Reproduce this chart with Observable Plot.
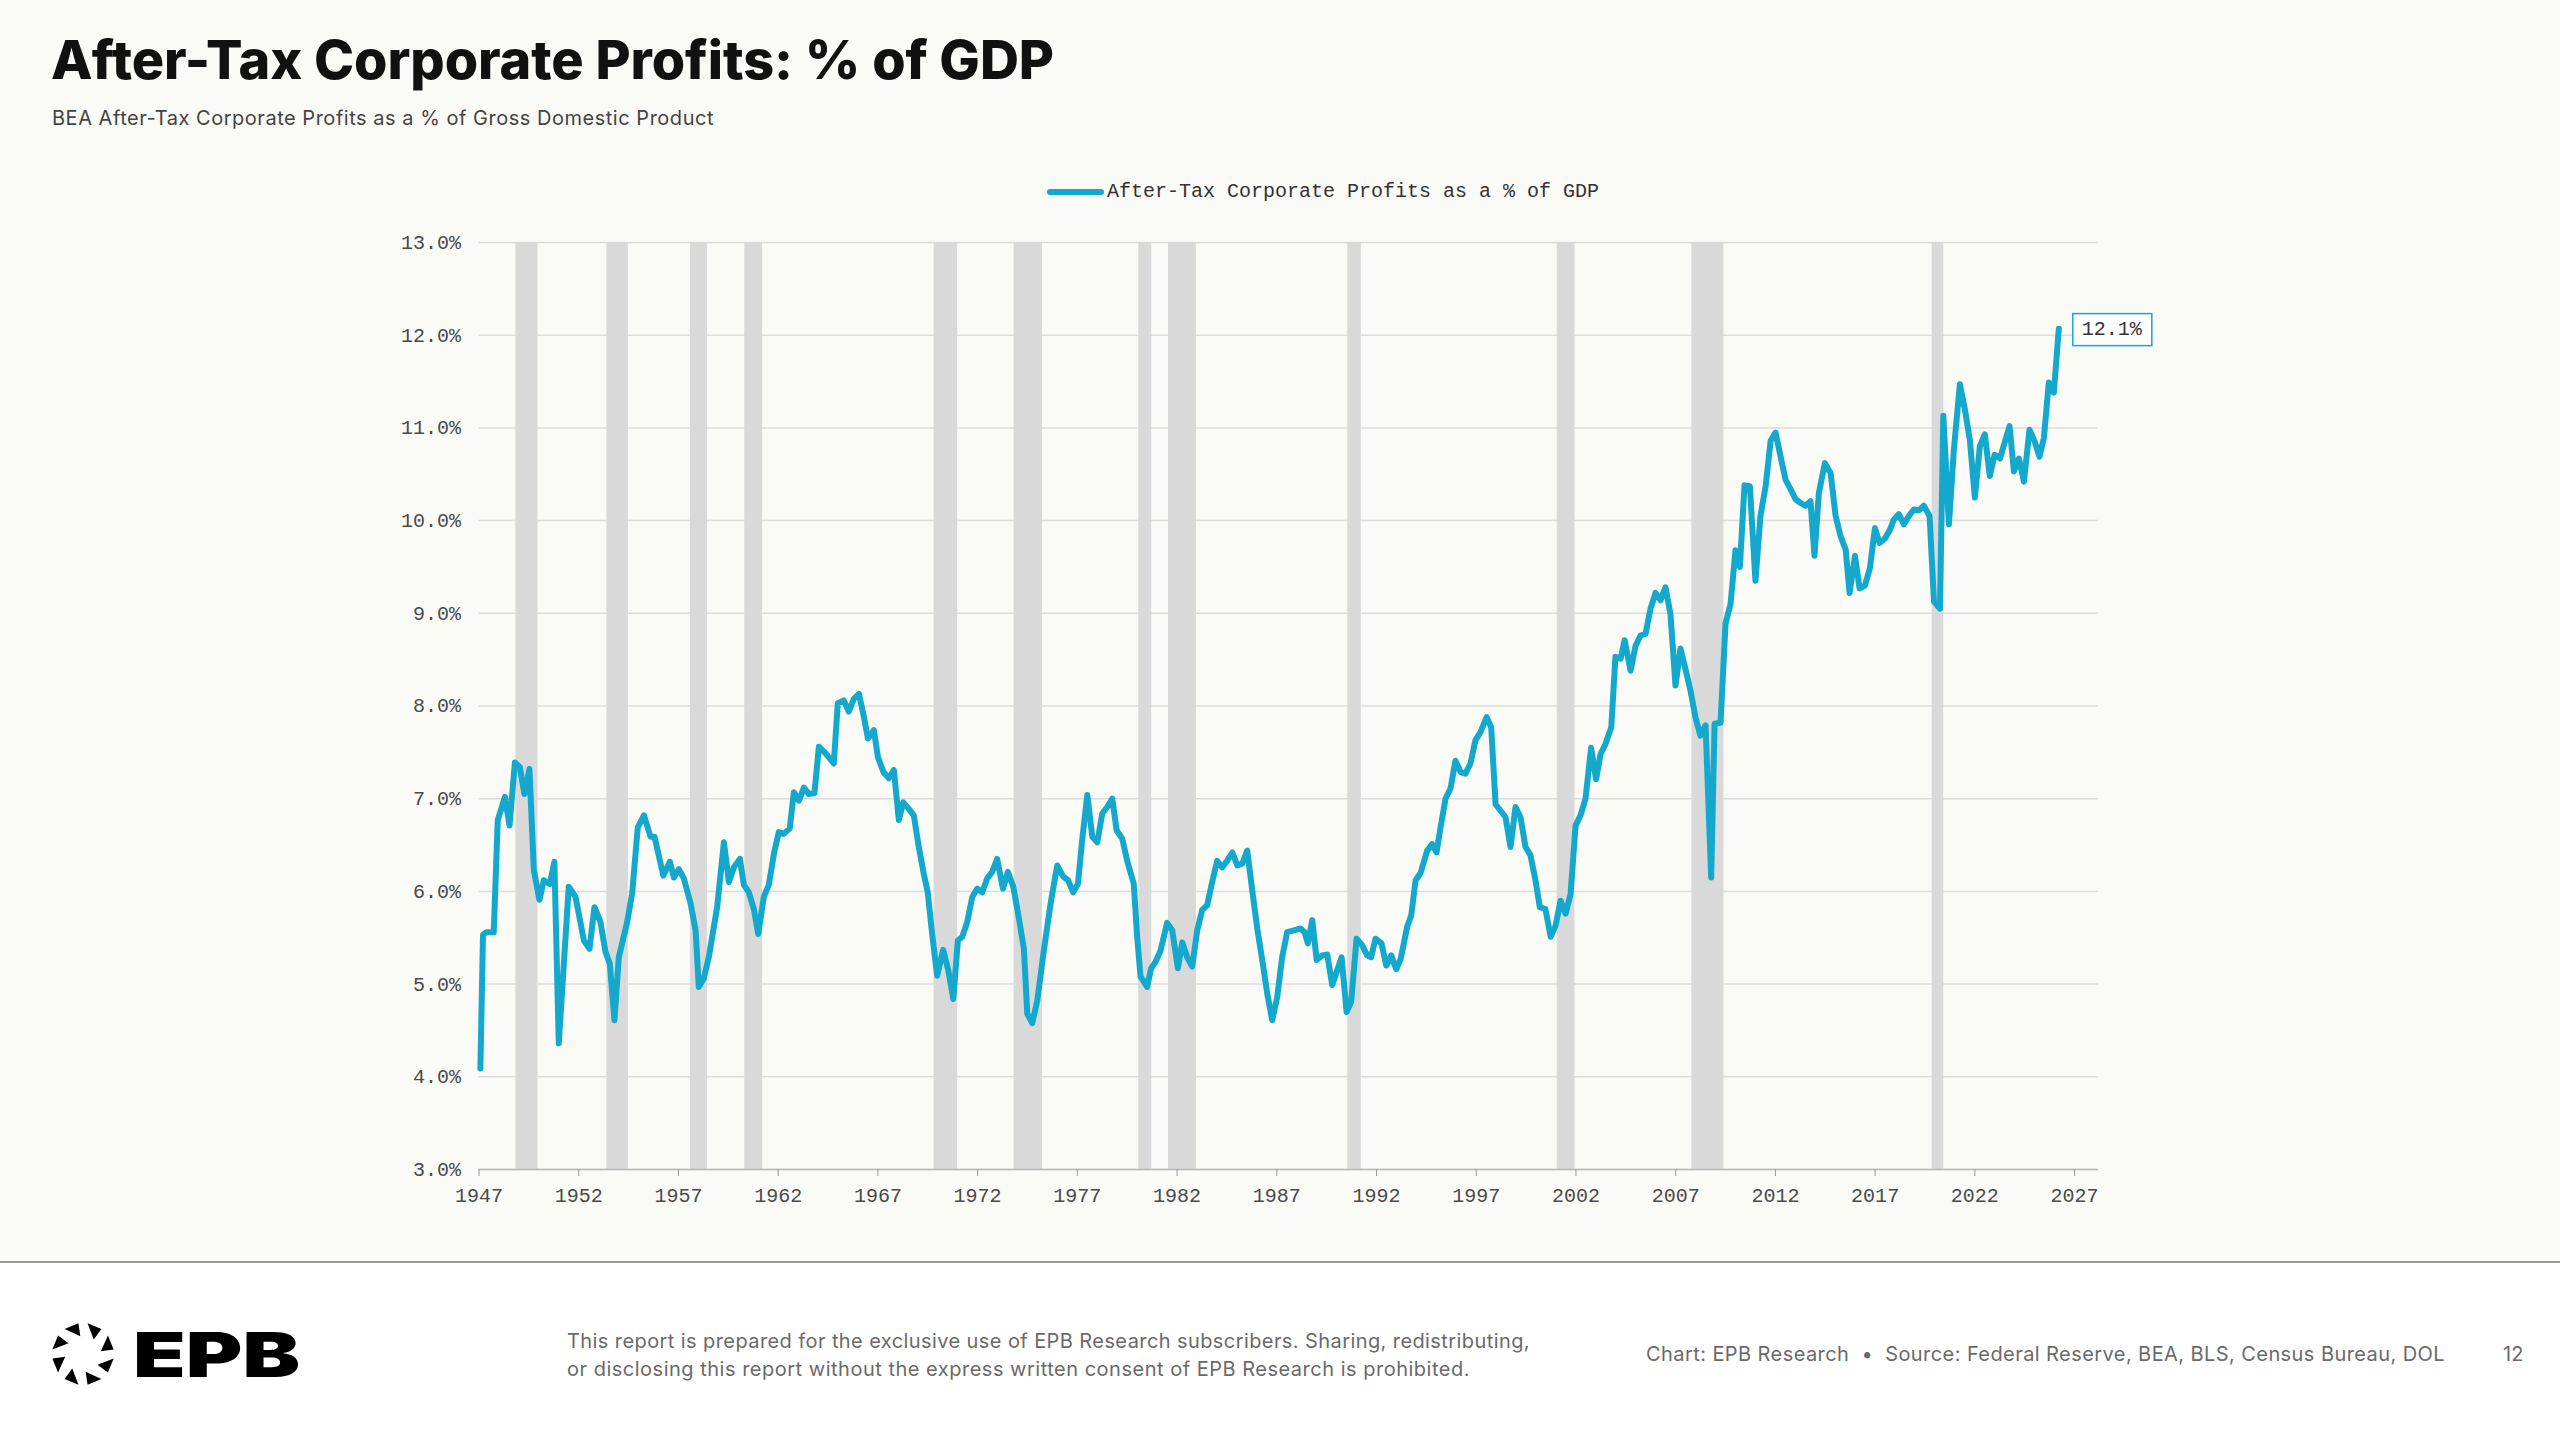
<!DOCTYPE html>
<html>
<head>
<meta charset="utf-8">
<script src="https://cdn.jsdelivr.net/npm/d3@7"></script>
<script src="https://cdn.jsdelivr.net/npm/@observablehq/plot@0.6"></script>
<style>
html, body { margin: 0; padding: 0; }
body { width: 2560px; height: 1441px; background: #fafaf7; position: relative; overflow: hidden; font-family: Inter, "Noto Sans", sans-serif; }
.t { position: absolute; white-space: nowrap; line-height: 1; }
#title { left: 51px; top: 33px; font-weight: 800; font-size: 54px; color: #111; }
#subtitle { left: 52px; top: 108px; font-size: 20px; color: #444; }
#legend { position: absolute; left: 1047px; top: 179px; height: 25px; display: flex; align-items: center; font-family: "Liberation Mono", monospace; font-size: 20px; color: #333; white-space: nowrap; }
#legend .sw { width: 57px; height: 6px; background: #14a9cc; border-radius: 3px; margin-right: 3px; }
#chart { position: absolute; left: 0; top: 170px; }
#footer { position: absolute; left: 0; top: 1261px; width: 2560px; height: 180px; background: #ffffff; border-top: 2px solid #9a9a9a; }
.f { position: absolute; white-space: nowrap; line-height: 28px; font-size: 20px; color: #6a6a6a; }
#logo { position: absolute; left: 45px; top: 1314px; }
</style>
</head>
<body>
<div id="title" class="t">After-Tax Corporate Profits: % of GDP</div>
<div id="subtitle" class="t">BEA After-Tax Corporate Profits as a % of Gross Domestic Product</div>
<div id="chart"></div>
<div id="legend"><div class="sw"></div><span id="legendText"></span></div>
<div id="footer"></div>
<svg id="logo" width="280" height="80"></svg>
<div id="disc1" class="f" style="left:567px; top:1327px;">This report is prepared for the exclusive use of EPB Research subscribers. Sharing, redistributing,</div>
<div id="disc2" class="f" style="left:567px; top:1355px;">or disclosing this report without the express written consent of EPB Research is prohibited.</div>
<div id="source" class="f" style="left:1646px; top:1340px;">Chart: EPB Research &nbsp;•&nbsp; Source: Federal Reserve, BEA, BLS, Census Bureau, DOL</div>
<div id="page" class="f" style="left:2503px; top:1340px;">12</div>
<script>
// ---- data ----
const seriesName = "After-Tax Corporate Profits as a % of GDP";
const years = [
1947.07,1947.20,1947.38,1947.74,1947.94,1948.30,1948.53,1948.80,1949.05,1949.28,1949.53,1949.75,
1950.03,1950.25,1950.55,1950.78,1951.00,1951.50,1951.84,1952.26,1952.54,1952.79,1953.09,1953.34,
1953.56,1953.79,1954.01,1954.43,1954.68,1954.96,1955.27,1955.60,1955.80,1956.24,1956.57,1956.77,
1957.02,1957.27,1957.61,1957.86,1958.02,1958.27,1958.52,1958.94,1959.28,1959.53,1959.78,1960.08,
1960.28,1960.53,1960.79,1961.00,1961.28,1961.53,1961.79,1962.03,1962.28,1962.58,1962.79,1963.04,
1963.29,1963.54,1963.82,1964.04,1964.38,1964.79,1964.99,1965.29,1965.54,1965.80,1966.05,1966.30,
1966.50,1966.80,1967.00,1967.27,1967.55,1967.80,1968.05,1968.27,1968.55,1968.80,1969.05,1969.30,
1969.50,1969.72,1969.97,1970.27,1970.53,1970.78,1971.01,1971.23,1971.48,1971.73,1971.98,1972.23,
1972.48,1972.73,1972.98,1973.27,1973.52,1973.79,1974.07,1974.32,1974.49,1974.74,1974.99,1975.32,
1975.66,1975.99,1976.29,1976.54,1976.79,1977.03,1977.24,1977.50,1977.75,1978.00,1978.25,1978.50,
1978.75,1978.97,1979.25,1979.50,1979.83,1980.00,1980.17,1980.50,1980.70,1980.92,1981.17,1981.50,
1981.76,1982.04,1982.26,1982.51,1982.76,1983.01,1983.26,1983.51,1983.76,1984.01,1984.26,1984.51,
1984.77,1985.02,1985.27,1985.52,1985.77,1986.02,1986.27,1986.52,1986.77,1987.02,1987.27,1987.52,
1987.86,1988.19,1988.39,1988.56,1988.78,1989.00,1989.28,1989.53,1989.78,1990.03,1990.25,1990.50,
1990.73,1991.00,1991.28,1991.53,1991.73,1991.95,1992.25,1992.49,1992.74,1992.99,1993.21,1993.54,
1993.74,1993.96,1994.21,1994.54,1994.79,1995.01,1995.21,1995.46,1995.71,1995.96,1996.21,1996.46,
1996.71,1996.96,1997.22,1997.52,1997.75,1997.97,1998.22,1998.47,1998.72,1998.97,1999.22,1999.47,
1999.72,1999.97,2000.19,2000.47,2000.73,2000.98,2001.23,2001.48,2001.73,2001.98,2002.23,2002.48,
2002.76,2003.01,2003.23,2003.48,2003.77,2003.98,2004.24,2004.44,2004.74,2004.99,2005.24,2005.49,
2005.74,2005.99,2006.24,2006.49,2006.74,2006.99,2007.24,2007.49,2007.74,2007.99,2008.24,2008.50,
2008.78,2008.95,2009.25,2009.50,2009.75,2010.00,2010.22,2010.45,2010.72,2011.00,2011.25,2011.51,
2011.76,2012.01,2012.26,2012.51,2012.76,2013.01,2013.26,2013.51,2013.76,2013.96,2014.18,2014.48,
2014.77,2015.02,2015.27,2015.52,2015.72,2015.99,2016.22,2016.49,2016.74,2016.99,2017.22,2017.47,
2017.74,2017.94,2018.19,2018.44,2018.69,2018.94,2019.19,2019.44,2019.73,2019.95,2020.25,2020.42,
2020.70,2020.95,2021.25,2021.50,2021.75,2022.00,2022.25,2022.50,2022.75,2022.99,2023.26,2023.49,
2023.74,2023.96,2024.21,2024.46,2024.74,2024.99,2025.24,2025.46,2025.71,2025.96,2026.21
];
const values = [
4.09,5.53,5.56,5.56,6.77,7.02,6.71,7.39,7.34,7.05,7.32,6.23,
5.91,6.12,6.08,6.32,4.36,6.05,5.94,5.47,5.38,5.83,5.67,5.35,
5.22,4.61,5.29,5.67,5.98,6.69,6.82,6.59,6.59,6.17,6.32,6.15,
6.24,6.14,5.87,5.58,4.97,5.06,5.29,5.83,6.53,6.10,6.26,6.35,
6.07,5.99,5.80,5.54,5.94,6.07,6.41,6.64,6.62,6.68,7.07,6.98,
7.12,7.05,7.06,7.56,7.49,7.38,8.03,8.06,7.94,8.08,8.13,7.88,
7.65,7.74,7.45,7.29,7.22,7.31,6.77,6.96,6.89,6.82,6.48,6.19,
5.99,5.54,5.09,5.37,5.15,4.84,5.47,5.51,5.67,5.94,6.03,5.99,
6.14,6.21,6.35,6.03,6.21,6.05,5.71,5.38,4.68,4.58,4.82,5.36,
5.87,6.28,6.16,6.12,5.99,6.08,6.55,7.04,6.59,6.53,6.84,6.91,
7.00,6.66,6.57,6.33,6.08,5.51,5.08,4.97,5.17,5.24,5.36,5.66,
5.58,5.17,5.45,5.29,5.19,5.58,5.80,5.85,6.10,6.33,6.26,6.33,
6.42,6.28,6.30,6.44,6.01,5.60,5.26,4.90,4.61,4.86,5.29,5.56,
5.58,5.60,5.56,5.44,5.69,5.26,5.31,5.32,4.99,5.15,5.29,4.70,
4.81,5.49,5.42,5.31,5.29,5.49,5.44,5.20,5.31,5.16,5.27,5.62,
5.74,6.12,6.20,6.44,6.51,6.42,6.69,7.00,7.11,7.41,7.29,7.27,
7.38,7.63,7.72,7.88,7.77,6.94,6.87,6.80,6.48,6.91,6.80,6.48,
6.39,6.12,5.83,5.81,5.51,5.63,5.90,5.76,5.97,6.71,6.82,7.00,
7.55,7.21,7.48,7.59,7.77,8.53,8.51,8.71,8.38,8.65,8.76,8.78,
9.05,9.22,9.14,9.28,8.99,8.22,8.62,8.40,8.17,7.88,7.68,7.79,
6.15,7.81,7.82,8.89,9.10,9.68,9.50,10.38,10.37,9.35,10.05,10.37,
10.86,10.95,10.69,10.44,10.34,10.23,10.19,10.16,10.21,9.62,10.30,10.62,
10.51,10.05,9.83,9.69,9.22,9.62,9.27,9.30,9.49,9.92,9.76,9.80,
9.90,10.01,10.07,9.96,10.05,10.12,10.11,10.16,10.05,9.13,9.05,11.13,
9.96,10.77,11.47,11.20,10.87,10.25,10.80,10.93,10.48,10.71,10.67,10.84,
11.02,10.53,10.67,10.42,10.98,10.86,10.69,10.89,11.49,11.38,12.07
];
const recessionStart = [1948.85,1953.41,1957.60,1960.33,1969.82,1973.83,1980.08,1981.57,1990.56,2001.06,2007.81,2019.86];
const recessionEnd   = [1949.96,1954.49,1958.46,1961.22,1971.00,1975.25,1980.73,1982.97,1991.24,2001.95,2009.42,2020.44];
const xTicks = [1947,1952,1957,1962,1967,1972,1977,1982,1987,1992,1997,2002,2007,2012,2017,2022,2027];
const yTicks = [3,4,5,6,7,8,9,10,11,12,13];
const endLabels = ["12.1%"];

// ---- tables ----
const data = years.map((t, i) => ({t, v: values[i]}));
const recessions = recessionStart.map((s, i) => ({s, e: recessionEnd[i]}));
const last = [{...data[data.length - 1], label: endLabels[0]}];

const LINE = "#14a9cc";
const chart = Plot.plot({
  width: 2560,
  height: 1060,
  marginLeft: 478.5,
  marginRight: 462,
  marginTop: 72,
  marginBottom: 61,
  style: {background: "transparent", fontFamily: "'Liberation Mono', monospace", fontSize: "20px", color: "#4a4a4a", overflow: "visible"},
  x: {domain: [1947, 2028.2]},
  y: {domain: [3, 13]},
  marks: [
    Plot.gridY(yTicks, {stroke: "#dcdcdc", strokeOpacity: 1, strokeWidth: 1.5}),
    Plot.rect(recessions, {x1: "s", x2: "e", fill: "#d9d9d9"}),
    Plot.ruleY([3], {stroke: "#b8b8b8", strokeWidth: 1.5}),
    Plot.axisY(yTicks, {tickSize: 0, tickPadding: 18, tickFormat: d => d.toFixed(1) + "%", label: null}),
    Plot.axisX(xTicks, {tickSize: 7, tickPadding: 11, tickFormat: d => String(d), label: null, stroke: "#9a9a9a"}),
    Plot.line(data, {x: "t", y: "v", stroke: LINE, strokeWidth: 6, strokeLinejoin: "round", strokeLinecap: "round"}),
    Plot.text(last, {x: "t", y: "v", text: "label", textAnchor: "start", dx: 23, fill: "#333", fontSize: 20})
  ]
});
document.getElementById("chart").appendChild(chart);
document.getElementById("legendText").textContent = seriesName;

// box around end label
(function () {
  const tx = Array.from(chart.querySelectorAll("text")).find(t => t.textContent === endLabels[0]);
  if (!tx) return;
  const bb = tx.getBBox();
  const r = document.createElementNS("http://www.w3.org/2000/svg", "rect");
  const cy = bb.y + bb.height / 2;
  r.setAttribute("x", bb.x - 9);
  r.setAttribute("y", cy - 16);
  r.setAttribute("width", bb.width + 18);
  r.setAttribute("height", 32);
  r.setAttribute("fill", "#ffffff");
  r.setAttribute("stroke", LINE);
  r.setAttribute("stroke-width", 1.5);
  if (tx.getAttribute("transform")) r.setAttribute("transform", tx.getAttribute("transform"));
  tx.parentNode.insertBefore(r, tx);
})();

// logo
(function () {
  const svg = document.getElementById("logo");
  const NS = "http://www.w3.org/2000/svg";
  const cx = 38, cy = 40, ro = 31, ri = 18;
  const P = (r, a) => [cx + r * Math.cos(a), cy + r * Math.sin(a)];
  for (let k = 0; k < 8; k++) {
    const a = (k * 45 + 22.5) * Math.PI / 180, h = 14 * Math.PI / 180;
    const pts = [P(ro, a - h), P(ro, a + h), P(ri, a + h)];
    const p = document.createElementNS(NS, "polygon");
    p.setAttribute("points", pts.map(q => q.join(",")).join(" "));
    p.setAttribute("fill", "#000");
    svg.appendChild(p);
  }
  const t = document.createElementNS(NS, "text");
  t.setAttribute("x", 88); t.setAttribute("y", 63);
  t.setAttribute("font-family", "Inter, sans-serif");
  t.setAttribute("font-weight", "900");
  t.setAttribute("font-size", "62");
  t.setAttribute("textLength", "167");
  t.setAttribute("lengthAdjust", "spacingAndGlyphs");
  t.textContent = "EPB";
  svg.appendChild(t);
})();

// fit header/footer text widths to the reference
function fit(id, target) {
  const el = document.getElementById(id);
  const w = el.getBoundingClientRect().width;
  const n = el.textContent.length;
  el.style.letterSpacing = ((target - w) / n) + "px";
}
fit("title", 1003);
fit("subtitle", 662);
fit("disc1", 963);
fit("disc2", 903);
fit("source", 799);
</script>
</body>
</html>
